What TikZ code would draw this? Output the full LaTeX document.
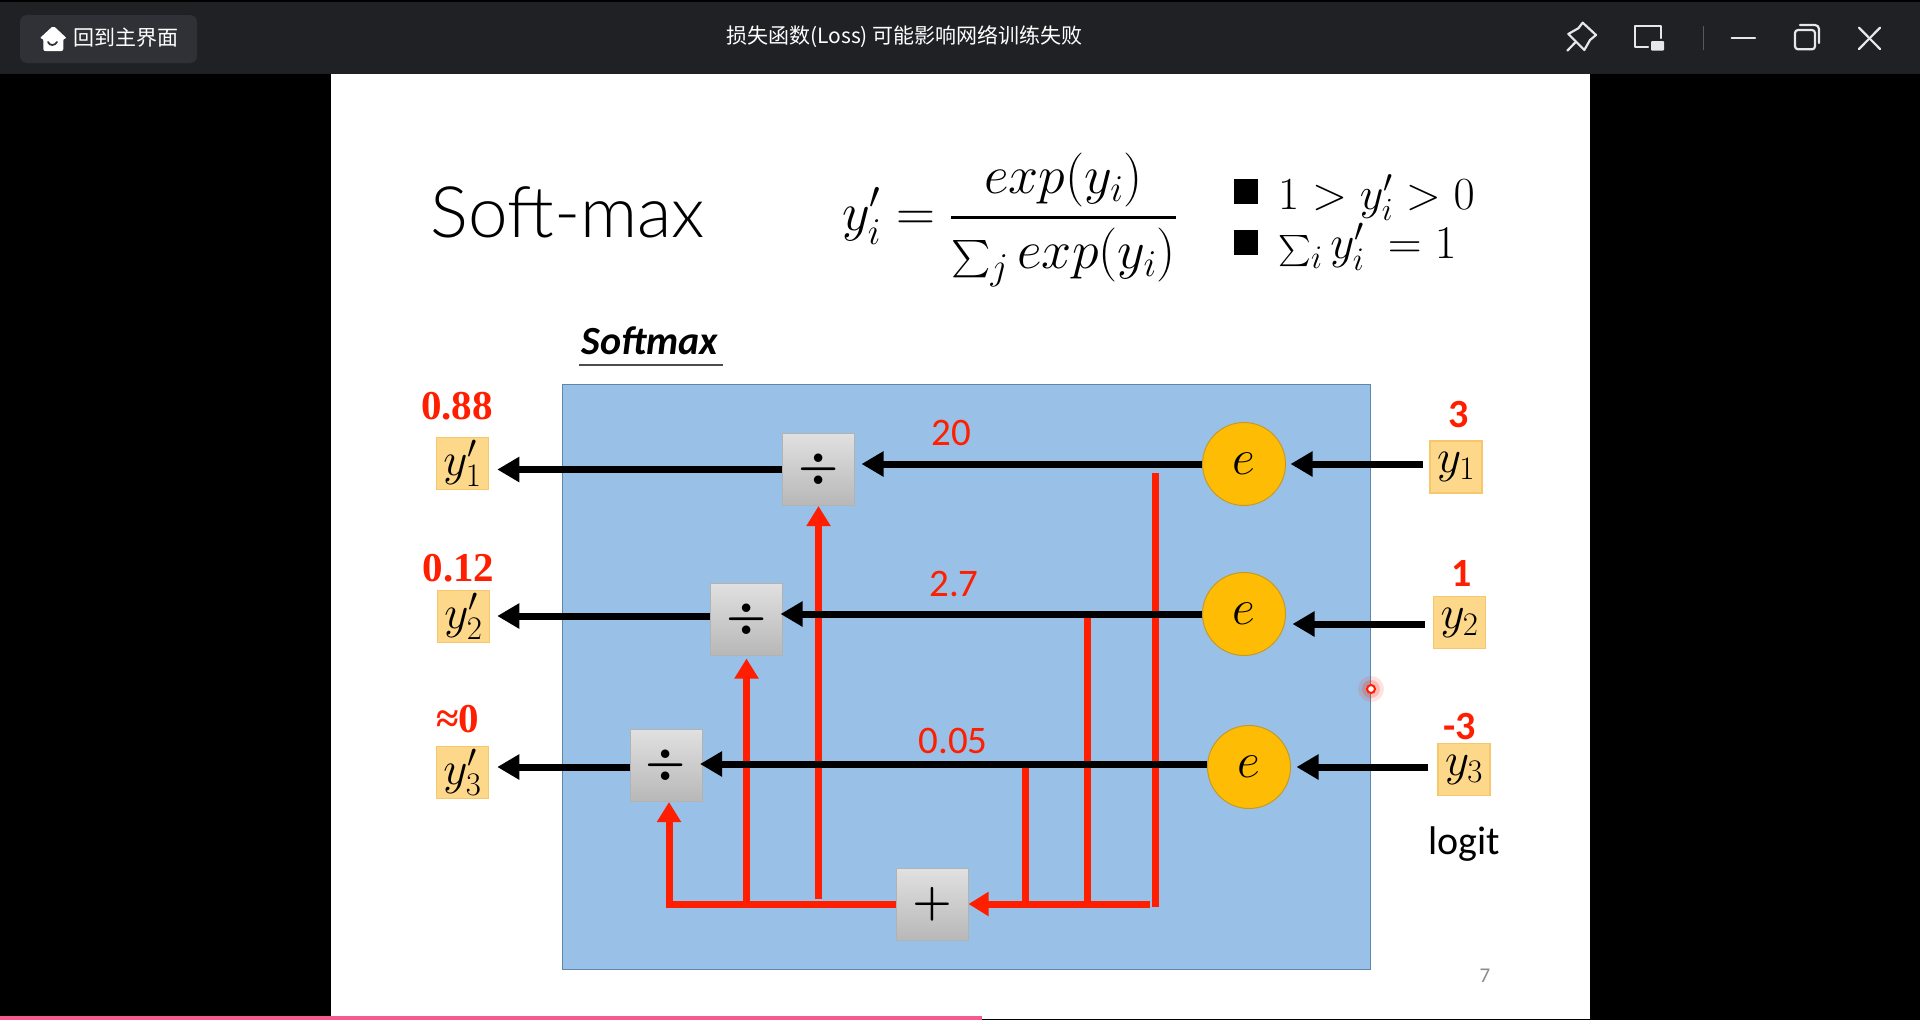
\documentclass[tikz,border=0pt]{standalone}
\usepackage{fix-cm}
\usepackage{exscale}
\usepackage{graphicx}
\usepackage{amsmath}
\usepackage{fontspec}
\setmainfont{Carlito}
\newfontfamily\serifnum{Liberation Serif}
\newfontfamily\lightfont{Lato Light}
\newfontfamily\cjk{Noto Sans CJK SC}
\usetikzlibrary{arrows.meta}
\newcommand{\sizept}[1]{\fontsize{#1}{#1}\selectfont}
\newcommand{\sumsym}[2]{\text{\sizept{24}\scalebox{#1}{$\textstyle\sum$}}_{#2}}
\definecolor{barcolor}{HTML}{202124}
\definecolor{btncolor}{HTML}{2F3136}
\definecolor{iconcolor}{HTML}{E6E7E9}
\definecolor{panelblue}{HTML}{99C1E7}
\definecolor{panelline}{HTML}{5F87AE}
\definecolor{varfill}{HTML}{FDD78A}
\definecolor{varline}{HTML}{F6C76C}
\definecolor{expfill}{HTML}{FFBC05}
\definecolor{expline}{HTML}{C39A28}
\definecolor{redline}{HTML}{FF1E00}
\definecolor{progress}{HTML}{F85A8F}
\tikzset{
    varbox/.style = {draw = varline, line width = 1.5pt, fill = varfill, minimum width = 52pt, minimum height = 52pt, inner sep = 0pt, font = \sizept{47}},
    opbox/.style = {draw = black!30, line width = 1pt, top color = black!12, bottom color = black!28, minimum width = 72pt, minimum height = 72pt, inner sep = 0pt, font = \sizept{45}\boldmath},
    expnode/.style = {circle, draw = expline, line width = 1pt, fill = expfill, minimum size = 83pt, inner sep = 0pt, font = \sizept{50}},
    valbold/.style = {text = redline, font = \serifnum\bfseries\sizept{41}},
    valsans/.style = {text = redline, font = \bfseries\sizept{40}},
    vallabel/.style = {text = redline, font = \sizept{39}},
    blackarrow/.style = {line width = 7pt, -{Triangle[length = 22pt, width = 24pt]}},
    redarrow/.style = {draw = redline, line width = 7pt, -{Triangle[length = 20pt, width = 23pt]}},
    redtap/.style = {draw = redline, line width = 7pt},
    icon/.style = {draw = iconcolor, line width = 2.2pt, line cap = round, line join = round}
}
\begin{document}
\begin{tikzpicture}[x = 1pt, y = -1pt]
    \useasboundingbox (0,0) rectangle (1920,1020);
    \fill [black] (0,0) rectangle (1920,1020);
    \fill [barcolor] (0,2) rectangle (1920,74);
    \fill [white] (331,74) rectangle (1590,1019);
    \fill [rounded corners = 7pt, btncolor] (20,15) rectangle (197,63);
    \fill [white, rounded corners = 2pt] (53.3,25.7) -- (67,38.5) -- (63.3,38.5) -- (63.3,51) -- (43.3,51) -- (43.3,38.5) -- (39.5,38.5) -- cycle;
    \draw [btncolor, line width = 1.8pt, line cap = round] (48,42) .. controls (49.5,46) and (55,46) .. (57,42);
    \node (home) [text = white, font = \cjk\sizept{21}] at (126,38) {回到主界面};
    \node (title) [text = white, font = \cjk\sizept{21}] at (904.5,37) {损失函数(Loss) 可能影响网络训练失败};

    \draw [icon] (1582.7,22.7) -- (1596,35) -- (1590,40) -- (1584.3,50) -- (1568.3,34) -- (1578.3,28.3) -- cycle;
    \draw [icon] (1567.3,50.7) -- (1575,42.7);
    \draw [icon] (1648,46.7) -- (1635,46.7) -- (1635,25.7) -- (1660.7,25.7) -- (1660.7,38);
    \fill [iconcolor, rounded corners = 1pt] (1651,41) rectangle (1664,50.7);
    \draw [black!65, line width = 0.8pt] (1703.3,26) -- (1703.3,50);
    \draw [icon] (1731.7,38) -- (1755,38);
    \draw [icon, rounded corners = 3pt] (1795,30) rectangle (1815,49.3);
    \draw [icon, rounded corners = 4pt] (1800,25) -- (1819,25) -- (1819,43);
    \draw [icon] (1859,27.7) -- (1880,49);
    \draw [icon] (1880,27.7) -- (1859,49);

    \node (softmaxtitle) [font = \lightfont\sizept{71}] at (568,212) {Soft-max};
    \node (formula) [anchor = west, inner sep = 0pt, font = \sizept{54}] at (842,220)
        {$\displaystyle y_i' = \genfrac{}{}{3pt}{}{exp(y_i)}{\sumsym{1.5}{j}\, exp(y_i)}$};
    \node (bullet1) [fill = black, minimum width = 24pt, minimum height = 25pt, inner sep = 0pt] at (1245.5,191.5) {};
    \node (bullet2) [fill = black, minimum width = 24pt, minimum height = 25pt, inner sep = 0pt] at (1245.5,242.5) {};
    \node (cond1) [anchor = west, inner sep = 0pt, font = \sizept{46}] at (1278,198) {$1 > y_i' > 0$};
    \node (cond2) [anchor = west, inner sep = 0pt, font = \sizept{47}] at (1278,247) {$\sumsym{1.25}{i}\, y_i'\ = 1$};

    \node (softmax) [inner sep = 1pt, font = \bfseries\itshape\sizept{40}] at (650,341) {Softmax};
    \coordinate (ul1) at (579,365);
    \coordinate (ul2) at (723,365);
    \draw [black!70, line width = 2pt] (ul1) -- (ul2);

    \node (panel) [draw = panelline, line width = 1pt, fill = panelblue, minimum width = 808pt, minimum height = 585pt, inner sep = 0pt] at (966,676.5) {};

    \node (yo1) [varbox] at (462.5,463.5) {$y_1'$};
    \node (yo2) [varbox] at (463.5,616.5) {$y_2'$};
    \node (yo3) [varbox] at (462.5,772.5) {$y_3'$};
    \node (yi1) [varbox] at (1456,467) {$y_1$};
    \node (yi2) [varbox] at (1459.5,622.5) {$y_2$};
    \node (yi3) [varbox] at (1464,769.5) {$y_3$};

    \node (div1) [opbox] at (818.5,469.5) {\raisebox{5pt}{$\div$}\hspace{-6pt}};
    \node (div2) [opbox] at (746.5,619) {\raisebox{5pt}{$\div$}\hspace{-6pt}};
    \node (div3) [opbox] at (666,765.5) {\raisebox{5pt}{$\div$}\hspace{-6pt}};
    \node (sum) [opbox] at (932,904.5) {\raisebox{2pt}{$+$}\hspace{-3pt}};

    \node (e1) [expnode] at (1244,464) {$e$};
    \node (e2) [expnode] at (1244,614) {$e$};
    \node (e3) [expnode] at (1249,767) {$e$};

    \coordinate (t1) at (1155,473);
    \coordinate (t2) at (1087,614);
    \coordinate (t3) at (1025,764);
    \coordinate (b3) at (669,904);

    \draw [redtap] (t1) -- (1155,907);
    \draw [redtap] (t2) -- (t2 |- b3);
    \draw [redtap] (t3) -- (t3 |- b3);
    \draw [redarrow] (1150,904) -- (sum.east |- b3);
    \draw [redarrow] (sum.west |- b3) -- (b3) -- (b3 |- div3.south);
    \draw [redarrow, shorten > = 3pt] (div2.south |- b3) -- (div2.south);
    \draw [redarrow] ([yshift = 5pt]div1.south |- b3) -- (div1.south);

    \draw [blackarrow, shorten > = 8pt] (div1.west) -- (div1.west -| yo1.east);
    \draw [blackarrow, shorten > = 7pt] ([yshift = 3pt]div2.west) -- ([yshift = 3pt]div2.west -| yo2.east);
    \draw [blackarrow, shorten > = 8pt] ([yshift = -1.5pt]div3.west) -- ([yshift = -1.5pt]div3.west -| yo3.east);

    \draw [blackarrow, shorten > = 6.5pt] (e1.west) -- (e1.west -| div1.east);
    \draw [blackarrow, shorten > = -2.5pt] (e2.west) -- (e2.west -| div2.east);
    \draw [blackarrow, shorten > = -2.5pt] ([yshift = 3pt]e3.west) -- ([yshift = 3pt]e3.west -| div3.east);

    \draw [blackarrow, shorten < = 6pt, shorten > = 4.5pt] (yi1.west |- e1.east) -- (e1.east);
    \draw [blackarrow, shorten < = 8pt, shorten > = 6.5pt] ([yshift = -1.5pt]yi2.west) -- ([yshift = -1.5pt]yi2.west -| e2.east);
    \draw [blackarrow, shorten < = 9pt, shorten > = 5.5pt] (yi3.west |- e3.east) -- (e3.east);

    \node (val1) [valbold] at (457,406) {0.88};
    \node (val2) [valbold] at (458.5,568.5) {0.12};
    \node (val3) [valbold] at (457.5,719) {≈0};
    \node (logit1) [valsans] at (1459,414.5) {3};
    \node (logit2) [valsans] at (1462,574) {1};
    \node (logit3) [valsans] at (1459.5,727) {-3};
    \node (exp1) [vallabel] at (951,433) {20};
    \node (exp2) [vallabel] at (954,584) {2.7};
    \node (exp3) [vallabel] at (953,741) {0.05};
    \node (logit) [font = \sizept{40}] at (1464,844) {logit};
    \node (page) [text = black!45, font = \sizept{21}] at (1485,976) {7};

    \fill [redline, opacity = 0.12] (1371,689) circle (13pt);
    \fill [redline, opacity = 0.2] (1371,689) circle (9pt);
    \draw [redline, line width = 2pt, fill = white] (1371,689) circle (4pt);

    \fill [black] (982,1019) rectangle (1920,1020);
    \fill [progress] (0,1016) rectangle (982,1019.5);
\end{tikzpicture}
\end{document}
